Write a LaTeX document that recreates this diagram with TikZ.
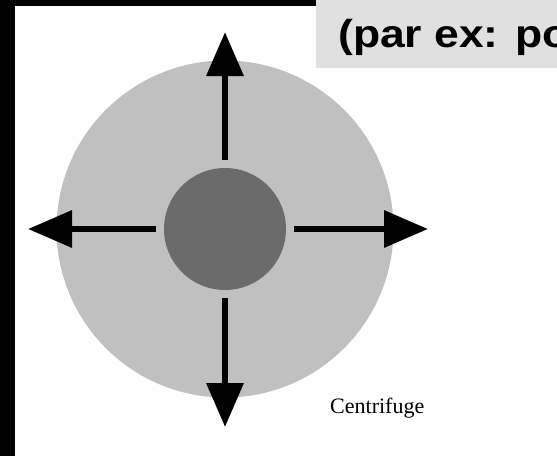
\documentclass[tikz,border=0pt]{standalone}
\usepackage{fontspec}
\setmainfont{Liberation Serif}
\newfontfamily\boxfont{Liberation Sans}
\usetikzlibrary{arrows.meta}
\definecolor{boxgrey}{HTML}{E0E0E0}
\definecolor{discgrey}{HTML}{C0C0C0}
\definecolor{hubgrey}{HTML}{6B6B6B}
\tikzset{
  arr/.style={line width=6.5pt, -{Triangle[length=44pt,width=36pt]}, shorten <=8pt},
  disc/.style={circle, inner sep=0pt, draw=none}
}
\begin{document}
\begin{tikzpicture}[x=1pt,y=-1pt]
\useasboundingbox (0,0) rectangle (557,456);
\fill[white] (0,0) rectangle (557,456);
\fill[black] (0,0) rectangle (15,456);
\fill[black] (0,0) rectangle (316,6);
\fill[boxgrey] (316,0) rectangle (557,68);
\begin{scope}
\clip (316,0) rectangle (557,68);
\node[anchor=base west, inner sep=0pt, xscale=1.14, font=\boxfont\bfseries\fontsize{39}{39}\selectfont] (title) at (338,47) {(par ex: po};
\end{scope}
\node[disc, fill=discgrey, minimum size=337pt] (outer) at (225,229) {};
\node[disc, fill=hubgrey, minimum size=122pt] (hub) at (225,229) {};
\coordinate (ntip) at (225,32);
\coordinate (stip) at (225,427);
\coordinate (wtip) at (28,229);
\coordinate (etip) at (428,229);
\draw[arr] (hub) -- (ntip);
\draw[arr] (hub) -- (stip);
\draw[arr] (hub) -- (wtip);
\draw[arr] (hub) -- (etip);
\node[anchor=base west, inner sep=0pt, font=\fontsize{22}{22}\selectfont] (label) at (330,413) {Centrifuge};
\end{tikzpicture}
\end{document}
